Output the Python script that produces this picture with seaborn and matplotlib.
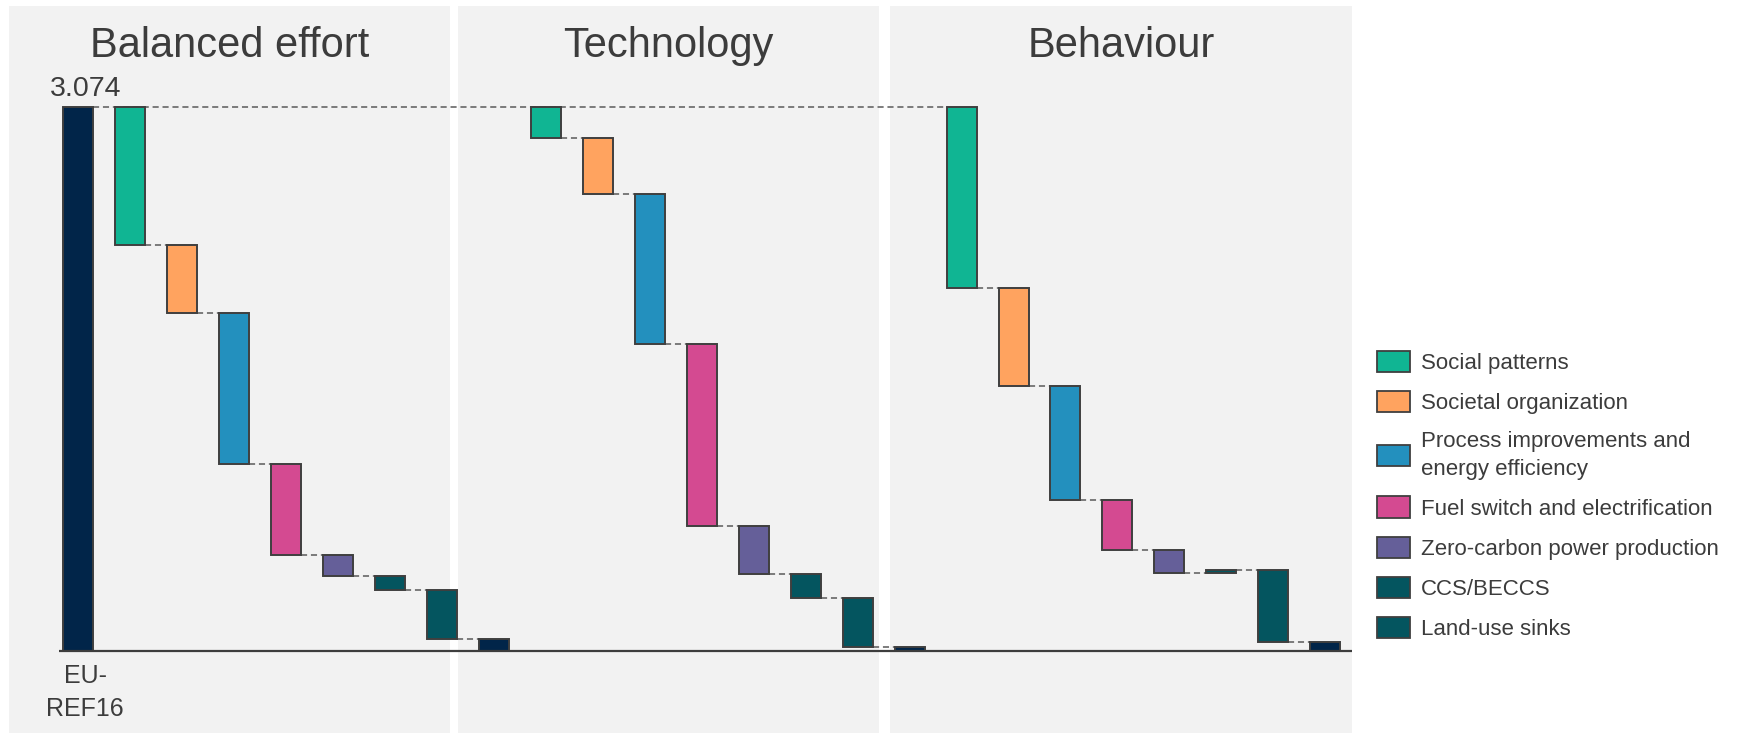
import matplotlib
matplotlib.use("Agg")
import matplotlib.pyplot as plt
from matplotlib.patches import Patch
import pandas as pd
import seaborn as sns

# data
scenarios = ["Balanced effort", "Technology", "Behaviour"]
levers = [
    "Social patterns",
    "Societal organization",
    "Process improvements and\nenergy efficiency",
    "Fuel switch and electrification",
    "Zero-carbon power production",
    "CCS/BECCS",
    "Land-use sinks",
]
lever_colors = ["#10b593", "#ffa35f", "#2390be", "#d44a91", "#655f99", "#04555f", "#04555f"]
total_color = "#012549"

base_label = "EU-\nREF16"
base_value = 3.074
balanced = [0.780, 0.385, 0.851, 0.516, 0.121, 0.078, 0.274]
technology = [0.175, 0.316, 0.849, 1.030, 0.271, 0.136, 0.273]
behaviour = [1.026, 0.550, 0.648, 0.282, 0.128, -0.015, 0.406]
remaining = [0.069, 0.024, 0.049]

# layout (pixels of the 1744x733 output)
W, H = 1744, 733
X0, STEP = 78.4, 51.95          # centre of first bar, distance between bars
Y0, PPU = 651.0, 544.3 / 3.074  # baseline row, pixels per unit
BAR_W = 30 / STEP
panels = [(9, 450), (458, 879), (890, 1352)]


def px_x(px):
    return (px - X0) / STEP


def px_y(py):
    return (Y0 - py) / PPU


sns.set_theme(style="white")
plt.rcParams["font.family"] = ["Liberation Sans", "DejaVu Sans"]
text_col = "#3c3c3c"
edge_col = "#3f3f3f"

# waterfall table
rows = []
links = []
for s, vals in enumerate([balanced, technology, behaviour]):
    level = base_value
    prev = None
    for k, v in enumerate(vals):
        pos = 1 + 8 * s + k
        end = level - v
        rows.append(dict(pos=pos, group=levers[k], bottom=min(level, end), height=abs(v)))
        if prev is not None:
            links.append((prev, pos, level))
        prev = pos
        level = end
    pos = 8 + 8 * s
    rows.append(dict(pos=pos, group="total", bottom=0.0, height=remaining[s]))
    links.append((prev, pos, level))
rows.append(dict(pos=0, group="total", bottom=0.0, height=base_value))
links.append((0, 17, base_value))
df = pd.DataFrame(rows).sort_values("pos")

fig = plt.figure(figsize=(W / 100, H / 100), dpi=100)
ax = fig.add_axes([0, 0, 1, 1])

for x0, x1 in panels:
    ax.axvspan(px_x(x0), px_x(x1), ymin=0, ymax=1 - 6 / H, color="#f2f2f2", lw=0, zorder=0)

groups = levers + ["total"]
colors = lever_colors + [total_color]
for g, c in zip(groups, colors):
    sub = df[df["group"] == g]
    native = sub["pos"].diff().min() if len(sub) > 1 else 1
    sns.barplot(data=sub, x="pos", y="height", native_scale=True, color=c,
                saturation=1, errorbar=None, width=BAR_W / native,
                bottom=sub["bottom"].values, edgecolor=edge_col, linewidth=1.4,
                zorder=3, ax=ax)

for a, b, lvl in links:
    ax.plot([a + BAR_W / 2, b - BAR_W / 2], [lvl, lvl], color="#5a5a5a",
            lw=1.1, ls=(0, (4, 2.5)), zorder=2)

ax.hlines(0, px_x(59), px_x(1352), color="#3d3d3d", lw=1.6, zorder=4)

for (x0, x1), name in zip(panels, scenarios):
    ax.text(px_x((x0 + x1) / 2), px_y(46), name, ha="center", va="center",
            fontsize=30, color=text_col)

ax.text(px_x(86), px_y(96), f"{base_value:.3f}", ha="center", va="baseline",
        fontsize=20.5, color=text_col)
ax.text(px_x(85), px_y(664), base_label, ha="center", va="top", fontsize=18,
        color=text_col, linespacing=1.45)

ax.set_xlim(px_x(0), px_x(W))
ax.set_ylim(px_y(H), px_y(0))
ax.set_axis_off()

handles = [Patch(facecolor=c, edgecolor=edge_col, lw=1.3) for c in lever_colors]
leg = fig.legend(handles, levers, loc="upper left",
                 bbox_to_anchor=(1368 / W, 1 - 342 / H), frameon=False,
                 fontsize=16, handlelength=1.5, handleheight=1.1,
                 labelspacing=0.76, handletextpad=0.5, borderaxespad=0)
for t in leg.get_texts():
    t.set_color(text_col)
    t.set_linespacing(1.4)

fig.savefig("out.png", dpi=100)
